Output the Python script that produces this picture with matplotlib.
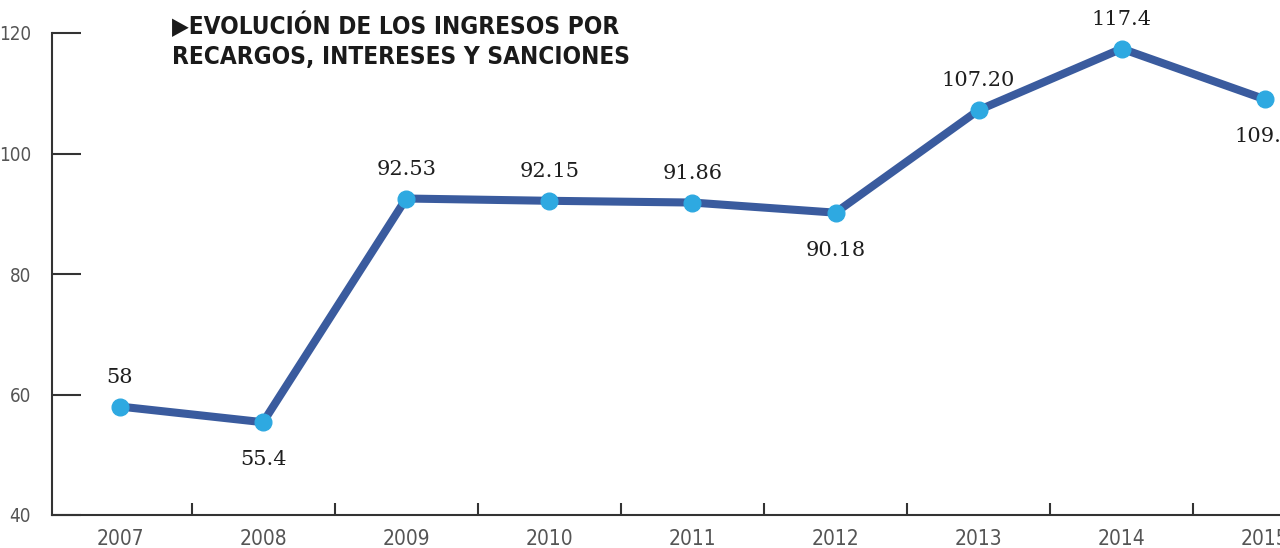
import matplotlib
matplotlib.use("Agg")
import matplotlib.pyplot as plt
from matplotlib.ticker import FixedLocator

# data
years = ["2007", "2008", "2009", "2010", "2011", "2012", "2013", "2014", "2015"]
values = [58, 55.4, 92.53, 92.15, 91.86, 90.18, 107.20, 117.4, 109.0]
labels = ["58", "55.4", "92.53", "92.15", "91.86", "90.18", "107.20", "117.4", "109.0"]
label_below = [False, True, False, False, False, True, False, False, True]
yticks = [40, 60, 80, 100, 120]

narrow = ["Liberation Sans Narrow", "DejaVu Sans"]

fig = plt.figure(figsize=(12.8, 5.48), dpi=100)
ax = fig.add_axes([52 / 1280, 33 / 548, 1228 / 1280, 482 / 548])

x = list(range(len(years)))
ax.plot(x, values, color="#3a5b9e", lw=5.8, solid_capstyle="round",
        solid_joinstyle="round", zorder=2)
ax.plot(x, values, "o", color="#2ea9e1", ms=12, mec="#2ea9e1", zorder=3)

for xi, v, lab, below in zip(x, values, labels, label_below):
    off = -27 if below else 21
    ax.annotate(lab, (xi, v), xytext=(0, off), textcoords="offset points",
                ha="center", va="center", fontsize=15, color="#1e1e1e",
                family="DejaVu Serif", annotation_clip=False)

ax.set_xlim(-0.475, 8.106)
ax.set_ylim(40, 120)

ax.set_xticks(x)
ax.set_xticklabels(years, family=narrow, stretch="condensed", fontsize=15,
                   color="#555555")
ax.xaxis.set_minor_locator(FixedLocator([i + 0.5 for i in x[:-1]]))
ax.tick_params(axis="x", which="major", length=0, pad=10)
ax.tick_params(axis="x", which="minor", direction="in", length=8.5,
               width=1.5, color="#333333")

ax.set_yticks(yticks)
ax.set_yticklabels([str(t) for t in yticks], family=narrow,
                   stretch="condensed", fontsize=13.5, color="#555555")
ax.tick_params(axis="y", direction="in", length=21, width=1.5,
               color="#333333", pad=15)

for s in ["top", "right"]:
    ax.spines[s].set_visible(False)
for s in ["left", "bottom"]:
    ax.spines[s].set_color("#333333")
    ax.spines[s].set_linewidth(1.5)

fig.text(172 / 1280, 1 - 13 / 548,
         "\u25b6EVOLUCIÓN DE LOS INGRESOS POR\nRECARGOS, INTERESES Y SANCIONES",
         family=narrow, stretch="condensed", fontweight="bold", fontsize=17.5,
         color="#1a1a1a", ha="left", va="top", linespacing=1.3)

fig.savefig("out.png", dpi=100, facecolor="white")
